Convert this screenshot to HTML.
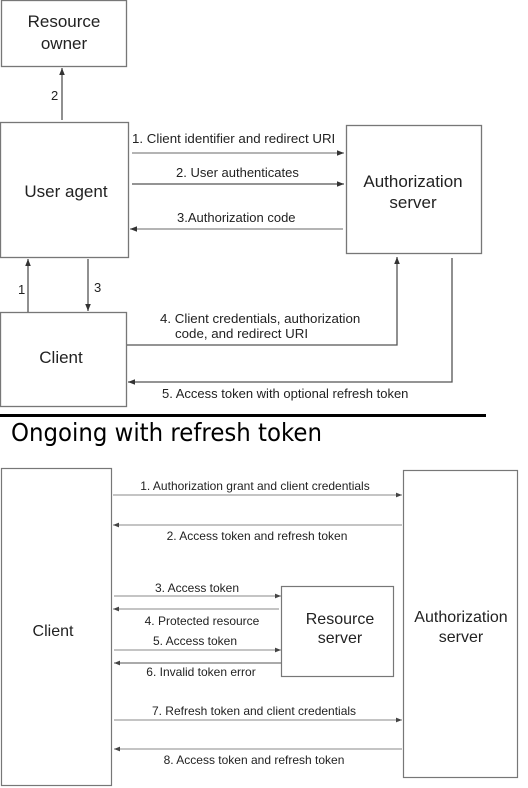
<!DOCTYPE html>
<html><head><meta charset="utf-8"><style>
html,body{margin:0;padding:0;background:#fff;}
svg{display:block;}
text{font-family:"Liberation Sans",Arial,sans-serif;fill:#222;}
</style></head><body>
<svg width="528" height="788" viewBox="0 0 528 788" xmlns="http://www.w3.org/2000/svg">
<defs>
<marker id="a" viewBox="0 0 10 10" refX="10" refY="5" markerWidth="7" markerHeight="7" orient="auto-start-reverse" markerUnits="userSpaceOnUse"><path d="M0,1 L10,5 L0,9 z" fill="#333"/></marker>
<marker id="b" viewBox="0 0 10 10" refX="10" refY="5" markerWidth="6" markerHeight="6" orient="auto-start-reverse" markerUnits="userSpaceOnUse"><path d="M0,1 L10,5 L0,9 z" fill="#444"/></marker>
</defs>
<g fill="none" stroke="#777" stroke-width="1.3">
<rect x="1.5" y="0.5" width="125" height="66"/>
<rect x="0.5" y="122.5" width="128" height="135"/>
<rect x="346.5" y="125.5" width="135" height="128"/>
<rect x="0.5" y="312.5" width="126" height="94"/>
</g>
<g font-size="17" text-anchor="middle">
<text x="64" y="27">Resource</text><text x="64" y="49">owner</text>
<text x="66" y="197">User agent</text>
<text x="413" y="187">Authorization</text><text x="413" y="208">server</text>
<text x="61" y="363">Client</text>
</g>
<g stroke="#555" stroke-width="1.3" fill="none">
<line x1="62" y1="120" x2="62" y2="68" marker-end="url(#a)"/>
<line x1="28" y1="312" x2="28" y2="259" marker-end="url(#a)"/>
<line x1="88" y1="259" x2="88" y2="311" marker-end="url(#a)"/>
<line x1="132" y1="153" x2="344" y2="153" stroke="#888" marker-end="url(#a)"/>
<line x1="132" y1="184" x2="344" y2="184" marker-end="url(#a)"/>
<line x1="343" y1="229" x2="130" y2="229" stroke="#888" marker-end="url(#a)"/>
<polyline points="127,345 397,345 397,257" marker-end="url(#a)"/>
<polyline points="452,258 452,382 128,382" marker-end="url(#a)"/>
</g>
<g font-size="13">
<text x="51" y="100">2</text>
<text x="18" y="294">1</text>
<text x="94" y="292">3</text>
<text x="132" y="143" font-size="13.3">1. Client identifier and redirect URI</text>
<text x="176" y="177">2. User authenticates</text>
<text x="177" y="222">3.Authorization code</text>
<text x="160" y="323" font-size="13.3">4. Client credentials, authorization</text>
<text x="175" y="338" font-size="13.3">code, and redirect URI</text>
<text x="162" y="398">5. Access token with optional refresh token</text>
</g>
<rect x="0" y="414" width="486" height="3" fill="#000"/>
<text x="11" y="441" font-size="25" font-weight="500" style="fill:#000;font-family:'DejaVu Sans','Liberation Sans',sans-serif" textLength="311" lengthAdjust="spacingAndGlyphs">Ongoing with refresh token</text>
<g fill="none" stroke="#777" stroke-width="1.2">
<rect x="1.5" y="468.5" width="110" height="317"/>
<rect x="403.5" y="470.5" width="114" height="307"/>
<rect x="281.5" y="586.5" width="112" height="90"/>
</g>
<g font-size="16" text-anchor="middle">
<text x="53" y="636">Client</text>
<text x="461" y="622">Authorization</text><text x="461" y="642">server</text>
<text x="340" y="624">Resource</text><text x="340" y="643">server</text>
</g>
<g stroke="#888" stroke-width="1.1">
<line x1="113" y1="495" x2="402" y2="495" marker-end="url(#b)"/>
<line x1="402" y1="525" x2="113" y2="525" marker-end="url(#b)"/>
<line x1="114" y1="596" x2="281" y2="596" marker-end="url(#b)"/>
<line x1="279" y1="609" x2="113" y2="609" marker-end="url(#b)"/>
<line x1="114" y1="650" x2="281" y2="650" marker-end="url(#b)"/>
<line x1="281" y1="663" x2="114" y2="663" stroke="#555" marker-end="url(#b)"/>
<line x1="114" y1="720" x2="402" y2="720" marker-end="url(#b)"/>
<line x1="402" y1="749" x2="114" y2="749" marker-end="url(#b)"/>
</g>
<g font-size="12" text-anchor="middle" style="fill:#333">
<text x="255" y="490">1. Authorization grant and client credentials</text>
<text x="257" y="540">2. Access token and refresh token</text>
<text x="197" y="592">3. Access token</text>
<text x="202" y="625">4. Protected resource</text>
<text x="195" y="645">5. Access token</text>
<text x="201" y="676">6. Invalid token error</text>
<text x="254" y="715">7. Refresh token and client credentials</text>
<text x="254" y="764">8. Access token and refresh token</text>
</g>
</svg>
</body></html>
